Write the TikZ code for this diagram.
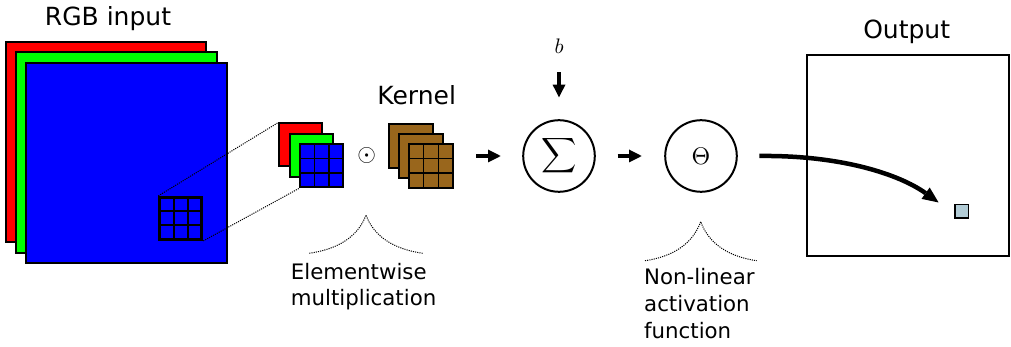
\RequirePackage{fix-cm}
\documentclass[tikz,border=0pt]{standalone}
\usepackage{fontspec}
\setmainfont{DejaVu Sans}
\usetikzlibrary{arrows.meta,calc}
\definecolor{kbrown}{RGB}{153,102,28}
\definecolor{pixblue}{RGB}{178,204,214}
\begin{document}
\begin{tikzpicture}[x=1pt,y=-1pt,
  sq/.style={draw, line width=2pt, inner sep=0pt, rectangle, minimum size=#1},
  grid3/.style={path picture={
    \foreach \q in {0.3333,0.6667}{
      \draw[line width=#1] ($(path picture bounding box.north west)!\q!(path picture bounding box.north east)$) -- ($(path picture bounding box.south west)!\q!(path picture bounding box.south east)$);
      \draw[line width=#1] ($(path picture bounding box.north west)!\q!(path picture bounding box.south west)$) -- ($(path picture bounding box.north east)!\q!(path picture bounding box.south east)$);
    }}},
  ttl/.style={font=\fontsize{25}{30}\selectfont, inner sep=0pt},
  lbl/.style={font=\fontsize{21.3}{26.7}\selectfont, inner sep=0pt, align=left},
  mth/.style={font=\fontsize{10}{12}\selectfont, inner sep=0pt},
  op/.style={draw, circle, line width=2pt, minimum size=71.6pt, inner sep=0pt},
  fatarrow/.style={line width=4.5pt, -{Triangle[length=12.7pt,width=13pt,line width=0pt]}},
  curvearrow/.style={line width=4.5pt, -{Triangle[length=16pt,width=14pt,line width=0pt]}},
  dots/.style={line width=1pt, dash pattern=on 1.1pt off 1.1pt},
]
\useasboundingbox (0,0) rectangle (1011,347);

% RGB input stack
\node[sq=200.5pt, fill=red]   (R)  at (106,142.2) {};
\node[sq=200.5pt, fill=green] (G)  at (116.3,152.5) {};
\node[sq=200.5pt, fill=blue]  (B)  at (126.6,162.8) {};
\node[sq=42pt, line width=3pt, grid3=2pt] (g) at (180.8,218.4) {};
\node[ttl, anchor=base] (rgbt) at (108,26) {RGB input};

% small patch stack
\node[sq=43pt, fill=red]   (sr) at (300.8,145) {};
\node[sq=43pt, fill=green] (sg) at (311.3,155.5) {};
\node[sq=43pt, fill=blue, grid3=1.5pt] (sb) at (321.7,165.8) {};

\draw[dots] (g.north west) -- (sr.north west);
\draw[dots] (g.south east) -- (sb.south west);

% elementwise product symbol
\node[mth] (odot) at (366.7,156) {\scalebox{2.4}{$\odot$}};

% kernel stack
\node[sq=44pt, fill=kbrown] (k1) at (411,145.7) {};
\node[sq=44pt, fill=kbrown] (k2) at (421,155.7) {};
\node[sq=44pt, fill=kbrown, grid3=1.5pt] (k3) at (431,165.7) {};
\node[ttl, anchor=base] (kt) at (416.7,105) {Kernel};

% sum and activation
\node[op, mth] (sigma) at (559,156) {\scalebox{2.45}{$\displaystyle\sum$}};
\node[op, mth] (theta) at (701,156) {\scalebox{2.4}{$\Theta$}};
\node[mth] (b) at (559,46.5) {\scalebox{2.1}{$b$}};

\draw[fatarrow, shorten <=32pt, shorten >=21.5pt] (sigma.west -| k2.east) -- (sigma.west);
\draw[fatarrow, shorten <=21.9pt, shorten >=22.5pt] (sigma.east) -- (theta.west);
\draw[fatarrow, shorten <=18.4pt, shorten >=21.9pt] (b.south) -- (sigma.north);

% output
\node[sq=201.5pt] (out) at (907.75,155.45) {};
\node[ttl, anchor=base] (outt) at (906.7,38.3) {Output};
\node[draw, line width=1.5pt, fill=pixblue, minimum size=13.5pt, inner sep=0pt] (pix) at (961.8,211.5) {};

\draw[curvearrow] ([xshift=21.5pt]theta.east) .. controls +(82,-1) and +(-39,-28) .. ([shift={(-15.7,-1.5)}]pix.north west);

% labels with dotted braces
\draw[dots] (309.3,253.3) .. controls +(28,-4) and +(-8,22) .. (366,215) .. controls +(8,22) and +(-28,-4) .. (422.7,253.3);
\node[lbl, anchor=base west] (ew) at (290.7,305.7) {Elementwise\\multiplication};

\draw[dots] (645,260.7) .. controls +(28,-4) and +(-8,22) .. (700.7,221.7) .. controls +(8,22) and +(-28,-4) .. (756.7,260.7);
\node[lbl, anchor=base west] (nl) at (644,338.3) {Non-linear\\activation\\function};
\end{tikzpicture}
\end{document}
